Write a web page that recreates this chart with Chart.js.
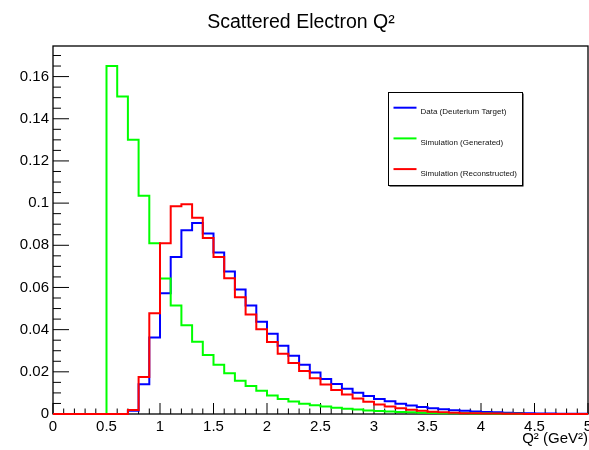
<!DOCTYPE html>
<html><head><meta charset="utf-8">
<script src="https://cdn.jsdelivr.net/npm/chart.js@4/dist/chart.umd.min.js"></script>
<style>html,body{margin:0;padding:0;background:#fff;}canvas{display:block;}</style>
</head><body>
<canvas id="c" width="589" height="450"></canvas>
<script>
// ---- data ----
const binLowEdges = [0.0,0.1,0.2,0.3,0.4,0.5,0.6,0.7,0.8,0.9,
  1.0,1.1,1.2,1.3,1.4,1.5,1.6,1.7,1.8,1.9,
  2.0,2.1,2.2,2.3,2.4,2.5,2.6,2.7,2.8,2.9,
  3.0,3.1,3.2,3.3,3.4,3.5,3.6,3.7,3.8,3.9,
  4.0,4.1,4.2,4.3,4.4,4.5,4.6,4.7,4.8,4.9];
const binUpperEnd = 5.0;

const dataDeuterium = [0,0,0,0,0,0,0,0.0015,0.0141,0.0363,
  0.0573,0.0744,0.0871,0.0906,0.0856,0.0766,0.0676,0.0590,0.0514,0.0438,
  0.0380,0.0324,0.0276,0.0233,0.0197,0.0166,0.0142,0.0120,0.0101,0.0085,
  0.0071,0.0060,0.0049,0.0040,0.0033,0.0027,0.0022,0.0018,0.0015,0.0012,
  0.0010,0.0008,0.0006,0.0005,0.0003,0.0002,0.0002,0.0001,0.0001,0.0001];

const simGenerated = [0,0,0,0,0,0.1650,0.1505,0.1300,0.1035,0.0810,
  0.0643,0.0514,0.0421,0.0343,0.0280,0.0233,0.0193,0.0158,0.0133,0.0110,
  0.0088,0.0071,0.0059,0.0049,0.0041,0.0035,0.0030,0.0025,0.0021,0.0017,
  0.0014,0.0012,0.0010,0.0008,0.0006,0.0005,0.0004,0.0003,0.0003,0.0002,
  0.0002,0.0001,0.0001,0.0001,0,0,0,0,0,0];

const simReconstructed = [0,0,0,0,0,0,0,0.0019,0.0175,0.0478,
  0.0810,0.0985,0.0995,0.0930,0.0835,0.0744,0.0644,0.0554,0.0472,0.0402,
  0.0342,0.0286,0.0242,0.0204,0.0170,0.0140,0.0114,0.0092,0.0073,0.0058,
  0.0045,0.0035,0.0027,0.0020,0.0015,0.0011,0.0008,0.0006,0.0004,0.0003,
  0.0002,0.0002,0.0001,0.0001,0,0,0,0,0,0];

const seriesLabels = ['Data (Deuterium Target)', 'Simulation (Generated)', 'Simulation (Reconstructed)'];
const seriesColors = ['#0000ff', '#00ff00', '#ff0000'];

const xTickValues = [0,0.5,1,1.5,2,2.5,3,3.5,4,4.5,5];
const xTickLabels = ['0','0.5','1','1.5','2','2.5','3','3.5','4','4.5','5'];
const yTickValues = [0,0.02,0.04,0.06,0.08,0.1,0.12,0.14,0.16];
const yTickLabels = ['0','0.02','0.04','0.06','0.08','0.1','0.12','0.14','0.16'];
const xMinorStep = 0.1;
const yMinorStep = 0.005;

const chartTitle = 'Scattered Electron Q\u00B2';
const xAxisTitle = 'Q\u00B2 (GeV\u00B2)';

// ---- helpers ----
function toSteps(vals) {
  const pts = binLowEdges.map((x, i) => ({x: x, y: vals[i]}));
  pts.push({x: binUpperEnd, y: vals[vals.length - 1]});
  return pts;
}

const FONT = "'Liberation Sans', Arial, Helvetica, sans-serif";
Chart.defaults.font.family = FONT;
Chart.defaults.color = '#000';

// frame + inward ticks (ROOT style)
const frameTicks = {
  id: 'frameTicks',
  beforeDatasetsDraw(chart) {
    const {ctx, chartArea: a, scales: {x, y}} = chart;
    ctx.save();
    ctx.strokeStyle = '#000';
    ctx.lineWidth = 1;
    ctx.beginPath();
    for (let v = x.min; v <= x.max + 1e-9; v += xMinorStep) {
      const r = Math.round(v * 1000) / 1000;
      const isMajor = xTickValues.some(t => Math.abs(t - r) < 1e-6);
      const px = x.getPixelForValue(r);
      const len = isMajor ? 11 : 5.5;
      ctx.moveTo(px, a.bottom);
      ctx.lineTo(px, a.bottom - len);
    }
    for (let v = y.min; v <= y.max + 1e-9; v += yMinorStep) {
      const r = Math.round(v * 100000) / 100000;
      const isMajor = yTickValues.some(t => Math.abs(t - r) < 1e-7);
      const py = y.getPixelForValue(r);
      const len = isMajor ? 16 : 8;
      ctx.moveTo(a.left, py);
      ctx.lineTo(a.left + len, py);
    }
    ctx.stroke();
    ctx.lineWidth = 1.3;
    ctx.strokeRect(a.left, a.top, a.right - a.left, a.bottom - a.top);
    ctx.restore();
  }
};

// title drawn slightly right of canvas centre, as in the ROOT picture
const rootTitle = {
  id: 'rootTitle',
  afterDraw(chart) {
    const ctx = chart.ctx;
    ctx.save();
    ctx.font = '19.5px ' + FONT;
    ctx.fillStyle = '#000';
    ctx.textAlign = 'center';
    ctx.textBaseline = 'alphabetic';
    ctx.fillText(chartTitle, 301, 28);
    ctx.restore();
  }
};

// ROOT-like legend box
const rootLegend = {
  id: 'rootLegend',
  afterDraw(chart) {
    const ctx = chart.ctx;
    const bx = 388.5, by = 92.5, bw = 134, bh = 93;
    ctx.save();
    ctx.fillStyle = '#000';
    ctx.fillRect(bx + 1, by + 1, bw, bh);
    ctx.fillStyle = '#fff';
    ctx.fillRect(bx, by, bw, bh);
    ctx.strokeStyle = '#000';
    ctx.lineWidth = 1;
    ctx.strokeRect(bx, by, bw, bh);
    const ds = chart.data.datasets;
    ctx.font = '8px ' + FONT;
    ctx.textBaseline = 'middle';
    ctx.textAlign = 'left';
    for (let k = 0; k < ds.length; k++) {
      const ly = by + 15.2 + k * 30.7;
      ctx.strokeStyle = ds[k].borderColor;
      ctx.lineWidth = 2;
      ctx.beginPath();
      ctx.moveTo(bx + 5, ly);
      ctx.lineTo(bx + 28, ly);
      ctx.stroke();
      ctx.fillStyle = '#111';
      ctx.fillText(ds[k].label, bx + 32, ly + 4.4);
    }
    ctx.restore();
  }
};

const mkDs = (i, vals, order) => ({
  label: seriesLabels[i],
  data: toSteps(vals),
  borderColor: seriesColors[i],
  backgroundColor: seriesColors[i],
  borderWidth: 2,
  pointRadius: 0,
  pointHoverRadius: 0,
  stepped: 'before',
  fill: false,
  tension: 0,
  clip: 4,
  order: order
});

new Chart(document.getElementById('c'), {
  type: 'line',
  data: {
    datasets: [
      mkDs(0, dataDeuterium, 3),
      mkDs(1, simGenerated, 2),
      mkDs(2, simReconstructed, 1)
    ]
  },
  plugins: [frameTicks, rootTitle, rootLegend],
  options: {
    responsive: false,
    animation: false,
    events: [],
    layout: {padding: {left: 0, right: 1, top: 46, bottom: 0}},
    plugins: {
      legend: {display: false},
      tooltip: {enabled: false},
      title: {display: false}
    },
    scales: {
      x: {
        type: 'linear',
        min: 0, max: 5,
        afterBuildTicks: s => { s.ticks = xTickValues.map(v => ({value: v})); },
        afterFit: s => { s.height = 36; s.paddingLeft = 0; s.paddingRight = 0; },
        ticks: {
          autoSkip: false, maxRotation: 0, padding: 4,
          font: {size: 15},
          callback: (v, i) => xTickLabels[i]
        },
        grid: {display: true, drawOnChartArea: false, drawTicks: false},
        border: {display: false},
        title: {
          display: true, text: xAxisTitle, align: 'end',
          font: {size: 15}, padding: {top: 0, bottom: 2}
        }
      },
      y: {
        type: 'linear',
        min: 0, max: 0.1745,
        afterBuildTicks: s => { s.ticks = yTickValues.map(v => ({value: v})); },
        afterFit: s => { s.width = 53; s.paddingTop = 0; s.paddingBottom = 0; },
        ticks: {
          padding: 4,
          font: {size: 15},
          callback: (v, i) => yTickLabels[i]
        },
        grid: {display: true, drawOnChartArea: false, drawTicks: false},
        border: {display: false}
      }
    }
  }
});
</script>
</body></html>
